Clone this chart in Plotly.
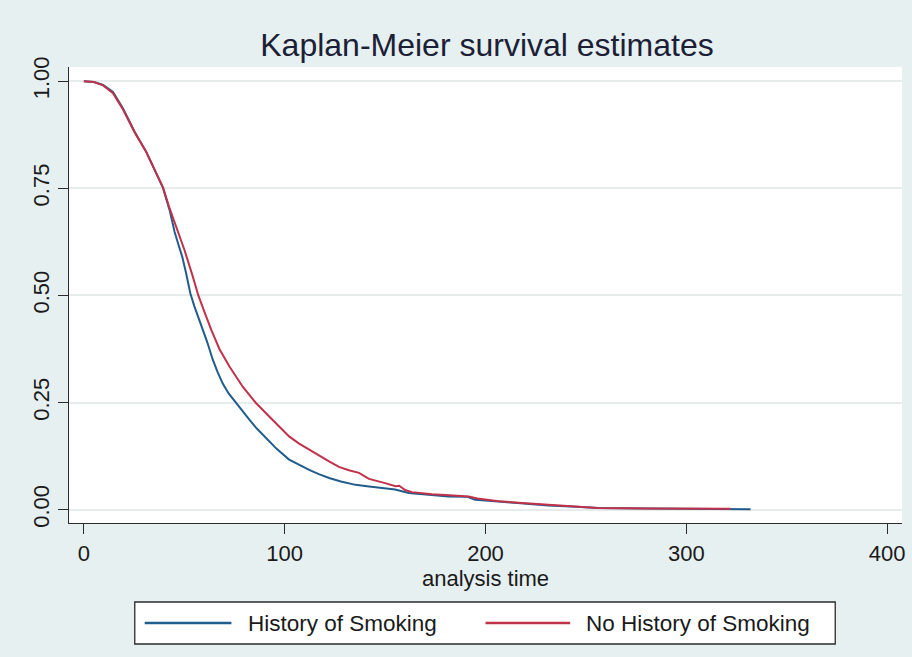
import plotly.graph_objects as go

# Kaplan-Meier survival estimates by smoking history
smoker_time = [0, 5, 9.6, 14.5, 19.5, 25.3, 31.1, 36.9, 39.4, 42.7, 45.2, 47, 49, 51, 53,
               55, 57, 59.2, 61.5, 64.2, 66.5, 69.1, 72, 75.8, 79, 82.4, 86, 90.7, 96,
               102.2, 107, 112.2, 117, 122.1, 128, 135.3, 142, 148.5, 155, 161.8, 170,
               181.6, 191, 194.9, 206.5, 220, 231.3, 245, 256, 281, 320, 332]
smoker_surv = [1.0, 0.998, 0.991, 0.975, 0.936, 0.882, 0.835, 0.777, 0.751, 0.699, 0.648,
               0.620, 0.590, 0.550, 0.505, 0.475, 0.447, 0.420, 0.390, 0.350, 0.322, 0.295,
               0.272, 0.249, 0.228, 0.210, 0.190, 0.167, 0.142, 0.117, 0.105, 0.093, 0.083,
               0.074, 0.066, 0.058, 0.054, 0.051, 0.047, 0.039, 0.035, 0.031, 0.030, 0.023,
               0.019, 0.014, 0.010, 0.007, 0.004, 0.003, 0.002, 0.001]

nonsmoker_time = [0, 5, 9.6, 14.5, 19.5, 25.3, 31.1, 36.9, 39.4, 42.7, 45, 47.6, 50.1, 54,
                  57, 60, 63.4, 67.5, 72.5, 79.1, 85.7, 93.9, 102.2, 107, 112.2, 117, 122.1,
                  127, 132, 137, 142, 150, 155.2, 157, 160, 163.4, 173.3, 182, 191.6, 196,
                  206.5, 220, 231.3, 245, 256, 281, 322]
nonsmoker_surv = [1.0, 0.998, 0.990, 0.972, 0.934, 0.880, 0.834, 0.778, 0.752, 0.703, 0.672,
                  0.642, 0.606, 0.548, 0.500, 0.462, 0.420, 0.375, 0.334, 0.287, 0.249, 0.210,
                  0.171, 0.155, 0.140, 0.126, 0.113, 0.100, 0.092, 0.086, 0.072, 0.062, 0.055,
                  0.056, 0.046, 0.041, 0.036, 0.034, 0.031, 0.026, 0.020, 0.015, 0.011, 0.007,
                  0.004, 0.003, 0.002]

group_names = ["History of Smoking", "No History of Smoking"]
group_colors = ["#205C8C", "#C1324A"]

x_ticks = [0, 100, 200, 300, 400]
y_ticks = [0, 0.25, 0.5, 0.75, 1.0]
y_tick_labels = ["0.00", "0.25", "0.50", "0.75", "1.00"]

FONT = "Liberation Sans, Arial, sans-serif"
BG = "#E6F0F0"
AXIS = "#2B2B2B"

fig = go.Figure()
fig.add_trace(go.Scatter(x=smoker_time, y=smoker_surv, mode="lines", name=group_names[0],
                         line=dict(color=group_colors[0], width=2)))
fig.add_trace(go.Scatter(x=nonsmoker_time, y=nonsmoker_surv, mode="lines", name=group_names[1],
                         line=dict(color=group_colors[1], width=2)))

fig.update_layout(
    width=912, height=657,
    margin=dict(l=69, r=7, t=67, b=134),
    paper_bgcolor=BG, plot_bgcolor="white",
    showlegend=False,
    font=dict(family=FONT, color="#1A1A1A"),
    title=dict(text="Kaplan-Meier survival estimates", x=0.534, xanchor="center",
               y=1 - 45 / 657, yanchor="middle",
               font=dict(size=32, family=FONT, color="#1C2036")),
)

fig.update_xaxes(
    range=[-7.4, 407.4], tickvals=x_ticks, showgrid=False, zeroline=False,
    showline=True, linecolor=AXIS, linewidth=1.3,
    ticks="outside", ticklen=10, tickwidth=1.3, tickcolor=AXIS,
    tickfont=dict(size=22),
    title=dict(text="analysis time", font=dict(size=22), standoff=2),
)
fig.update_yaxes(
    range=[-0.031, 1.033], tickvals=y_ticks, ticktext=y_tick_labels, tickangle=-90,
    showgrid=True, gridcolor="#E6EBEB", gridwidth=1.5, zeroline=False,
    showline=True, linecolor=AXIS, linewidth=1.3,
    ticks="outside", ticklen=10, tickwidth=1.3, tickcolor=AXIS,
    tickfont=dict(size=22),
)

# Legend box drawn below the plot area
plot_w, plot_h = 836, 456


def px(xp):
    return (xp - 69) / plot_w


def py(yp):
    return (523 - yp) / plot_h


fig.add_shape(type="rect", xref="paper", yref="paper",
              x0=px(135), x1=px(838), y0=py(644), y1=py(602),
              fillcolor="white", line=dict(color=AXIS, width=1.3))
legend_items = [(145, 232, 247), (487, 572, 586)]
for (lx0, lx1, tx), name, color in zip(legend_items, group_names, group_colors):
    fig.add_shape(type="line", xref="paper", yref="paper",
                  x0=px(lx0), x1=px(lx1), y0=py(623), y1=py(623),
                  line=dict(color=color, width=2.5))
    fig.add_annotation(xref="paper", yref="paper", x=px(tx), y=py(623),
                       xanchor="left", yanchor="middle", showarrow=False,
                       text=name, font=dict(size=22.5, color="#1A1A1A"))

fig.write_html("out.html")
